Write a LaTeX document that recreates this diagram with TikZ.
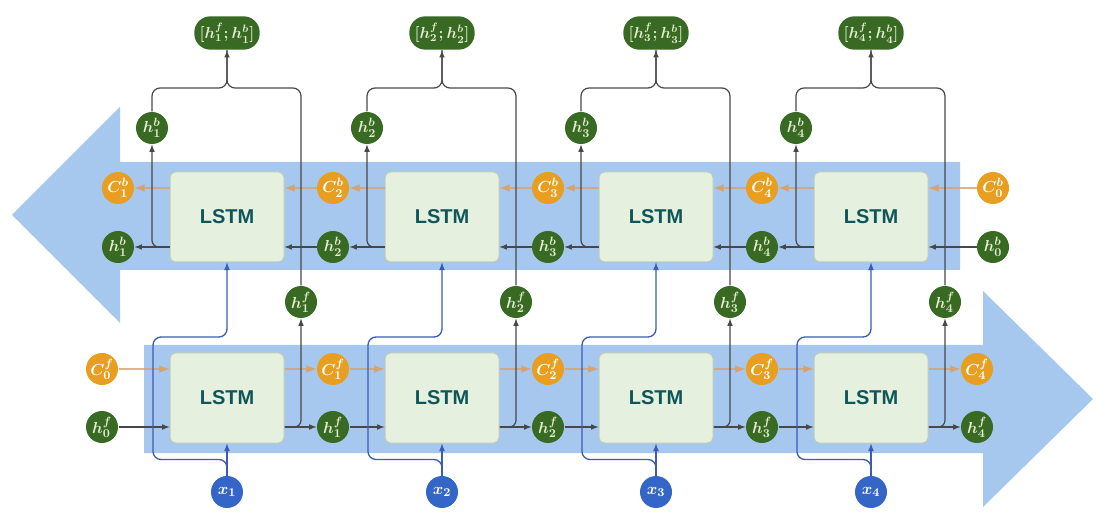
\documentclass[tikz,border=0pt]{standalone}
\usepackage{fontspec}
\setsansfont{Liberation Sans}

\definecolor{bandblue}{RGB}{166,199,238}
\definecolor{boxfill}{RGB}{229,240,222}
\definecolor{boxedge}{RGB}{190,205,186}
\definecolor{lstmtext}{RGB}{14,86,90}
\definecolor{hgreen}{RGB}{56,106,36}
\definecolor{corange}{RGB}{232,158,32}
\definecolor{xblue}{RGB}{52,102,200}
\definecolor{hlabel}{RGB}{226,236,206}
\definecolor{linegray}{RGB}{72,72,72}
\definecolor{xlinecol}{RGB}{58,92,180}
\definecolor{clinecol}{RGB}{214,162,110}

\tikzset{every picture/.style={line width=0.75pt}}
\tikzset{
  lstm/.style={draw=boxedge, fill=boxfill, rounded corners=4pt, minimum width=85.5pt, minimum height=67.5pt, font=\sffamily\bfseries\fontsize{15}{17}\selectfont, text=lstmtext},
  hnode/.style={circle, fill=hgreen, minimum size=24pt, inner sep=0pt, text=hlabel, font=\fontsize{12.5}{13}\selectfont\boldmath},
  cnode/.style={circle, fill=corange, minimum size=24pt, inner sep=0pt, text=white, font=\fontsize{12.5}{13}\selectfont\boldmath},
  xnode/.style={circle, fill=xblue, minimum size=24pt, inner sep=0pt, text=white, font=\fontsize{12.5}{13}\selectfont\boldmath},
  outnode/.style={fill=hgreen, rounded corners=12pt, minimum width=49pt, minimum height=25pt, inner sep=1pt, text=hlabel, font=\fontsize{11.5}{12}\selectfont\boldmath},
  hline/.style={draw=linegray, line width=0.9pt},
  cline/.style={draw=clinecol, line width=1.6pt, draw opacity=0.8},
  xline/.style={draw=xlinecol, line width=1pt},
}

\begin{document}
\begin{tikzpicture}[x=0.75pt,y=0.75pt,yscale=-1,xscale=1,>=latex]

\useasboundingbox (0,0) rectangle (1108,524);

% bands
\fill [bandblue] (960,162) -- (120,162) -- (120,107) -- (12,215) -- (120,323) -- (120,270) -- (960,270) -- cycle ;
\fill [bandblue] (144,345) -- (983,345) -- (983,291) -- (1093,399) -- (983,507) -- (983,453) -- (144,453) -- cycle ;

% backward row
\node [lstm] (lstmb1) at (227,217) {LSTM};
\node [lstm] (lstmb2) at (442,217) {LSTM};
\node [lstm] (lstmb3) at (656,217) {LSTM};
\node [lstm] (lstmb4) at (871,217) {LSTM};

\node [cnode] (cb1) at (118,188) {$C^{b}_{1}$};
\node [cnode] (cb2) at (333,188) {$C^{b}_{2}$};
\node [cnode] (cb3) at (548,188) {$C^{b}_{3}$};
\node [cnode] (cb4) at (762,188) {$C^{b}_{4}$};
\node [cnode] (cb0) at (993,188) {$C^{b}_{0}$};

\node [hnode] (hb1) at (118,247) {$h^{b}_{1}$};
\node [hnode] (hb2) at (333,247) {$h^{b}_{2}$};
\node [hnode] (hb3) at (548,247) {$h^{b}_{3}$};
\node [hnode] (hb4) at (762,247) {$h^{b}_{4}$};
\node [hnode] (hb0) at (993,247) {$h^{b}_{0}$};

\node [hnode] (hbu1) at (152,128) {$h^{b}_{1}$};
\node [hnode] (hbu2) at (367,128) {$h^{b}_{2}$};
\node [hnode] (hbu3) at (581,128) {$h^{b}_{3}$};
\node [hnode] (hbu4) at (796,128) {$h^{b}_{4}$};

% forward row
\node [lstm] (lstmf1) at (227,398) {LSTM};
\node [lstm] (lstmf2) at (442,398) {LSTM};
\node [lstm] (lstmf3) at (656,398) {LSTM};
\node [lstm] (lstmf4) at (871,398) {LSTM};

\node [cnode] (cf0) at (102,369) {$C^{f}_{0}$};
\node [cnode] (cf1) at (333,369) {$C^{f}_{1}$};
\node [cnode] (cf2) at (548,369) {$C^{f}_{2}$};
\node [cnode] (cf3) at (762,369) {$C^{f}_{3}$};
\node [cnode] (cf4) at (977,369) {$C^{f}_{4}$};

\node [hnode] (hf0) at (102,427) {$h^{f}_{0}$};
\node [hnode] (hf1) at (333,427) {$h^{f}_{1}$};
\node [hnode] (hf2) at (548,427) {$h^{f}_{2}$};
\node [hnode] (hf3) at (762,427) {$h^{f}_{3}$};
\node [hnode] (hf4) at (977,427) {$h^{f}_{4}$};

\node [hnode] (hfu1) at (301,302) {$h^{f}_{1}$};
\node [hnode] (hfu2) at (516,302) {$h^{f}_{2}$};
\node [hnode] (hfu3) at (730,302) {$h^{f}_{3}$};
\node [hnode] (hfu4) at (945,302) {$h^{f}_{4}$};

\node [xnode] (x1) at (227,492) {$x_{1}$};
\node [xnode] (x2) at (442,492) {$x_{2}$};
\node [xnode] (x3) at (656,492) {$x_{3}$};
\node [xnode] (x4) at (871,492) {$x_{4}$};

% outputs
\node [outnode] (out1) at (227,33) {$[h^{f}_{1};h^{b}_{1}]$};
\node [outnode] (out2) at (442,33) {$[h^{f}_{2};h^{b}_{2}]$};
\node [outnode] (out3) at (656,33) {$[h^{f}_{3};h^{b}_{3}]$};
\node [outnode] (out4) at (871,33) {$[h^{f}_{4};h^{b}_{4}]$};
\coordinate (m1) at (227,88);
\coordinate (m2) at (442,88);
\coordinate (m3) at (656,88);
\coordinate (m4) at (871,88);

% cell state, backward
\draw [cline,->] (cb0) -- (cb0 -| lstmb4.east) ;
\draw [cline,->] (lstmb4.west |- cb4) -- (cb4) ;
\draw [cline,->] (cb4) -- (cb4 -| lstmb3.east) ;
\draw [cline,->] (lstmb3.west |- cb3) -- (cb3) ;
\draw [cline,->] (cb3) -- (cb3 -| lstmb2.east) ;
\draw [cline,->] (lstmb2.west |- cb2) -- (cb2) ;
\draw [cline,->] (cb2) -- (cb2 -| lstmb1.east) ;
\draw [cline,->] (lstmb1.west |- cb1) -- (cb1) ;

% hidden state, backward
\draw [hline,->] (hb0) -- (hb0 -| lstmb4.east) ;
\draw [hline,->] (lstmb4.west |- hb4) -- (hb4) ;
\draw [hline,->] (hb4) -- (hb4 -| lstmb3.east) ;
\draw [hline,->] (lstmb3.west |- hb3) -- (hb3) ;
\draw [hline,->] (hb3) -- (hb3 -| lstmb2.east) ;
\draw [hline,->] (lstmb2.west |- hb2) -- (hb2) ;
\draw [hline,->] (hb2) -- (hb2 -| lstmb1.east) ;
\draw [hline,->] (lstmb1.west |- hb1) -- (hb1) ;
\draw [hline,->,rounded corners=5pt] (lstmb1.west |- hb1) -| (hbu1) ;
\draw [hline,->,rounded corners=5pt] (lstmb2.west |- hb2) -| (hbu2) ;
\draw [hline,->,rounded corners=5pt] (lstmb3.west |- hb3) -| (hbu3) ;
\draw [hline,->,rounded corners=5pt] (lstmb4.west |- hb4) -| (hbu4) ;

% cell state, forward
\draw [cline,->] (cf0) -- (cf0 -| lstmf1.west) ;
\draw [cline,->] (lstmf1.east |- cf1) -- (cf1) ;
\draw [cline,->] (cf1) -- (cf1 -| lstmf2.west) ;
\draw [cline,->] (lstmf2.east |- cf2) -- (cf2) ;
\draw [cline,->] (cf2) -- (cf2 -| lstmf3.west) ;
\draw [cline,->] (lstmf3.east |- cf3) -- (cf3) ;
\draw [cline,->] (cf3) -- (cf3 -| lstmf4.west) ;
\draw [cline,->] (lstmf4.east |- cf4) -- (cf4) ;

% hidden state, forward
\draw [hline,->] (hf0) -- (hf0 -| lstmf1.west) ;
\draw [hline,->] (lstmf1.east |- hf1) -- (hf1) ;
\draw [hline,->] (hf1) -- (hf1 -| lstmf2.west) ;
\draw [hline,->] (lstmf2.east |- hf2) -- (hf2) ;
\draw [hline,->] (hf2) -- (hf2 -| lstmf3.west) ;
\draw [hline,->] (lstmf3.east |- hf3) -- (hf3) ;
\draw [hline,->] (hf3) -- (hf3 -| lstmf4.west) ;
\draw [hline,->] (lstmf4.east |- hf4) -- (hf4) ;
\draw [hline,->,rounded corners=5pt] (lstmf1.east |- hf1) -| (hfu1) ;
\draw [hline,->,rounded corners=5pt] (lstmf2.east |- hf2) -| (hfu2) ;
\draw [hline,->,rounded corners=5pt] (lstmf3.east |- hf3) -| (hfu3) ;
\draw [hline,->,rounded corners=5pt] (lstmf4.east |- hf4) -| (hfu4) ;

% concatenation
\draw [hline,rounded corners=6pt] (hbu1) |- (m1) -- (out1) ;
\draw [hline,->,rounded corners=6pt] (hfu1) |- (m1) -- (out1) ;
\draw [hline,rounded corners=6pt] (hbu2) |- (m2) -- (out2) ;
\draw [hline,->,rounded corners=6pt] (hfu2) |- (m2) -- (out2) ;
\draw [hline,rounded corners=6pt] (hbu3) |- (m3) -- (out3) ;
\draw [hline,->,rounded corners=6pt] (hfu3) |- (m3) -- (out3) ;
\draw [hline,rounded corners=6pt] (hbu4) |- (m4) -- (out4) ;
\draw [hline,->,rounded corners=6pt] (hfu4) |- (m4) -- (out4) ;

% inputs
\draw [xline,->] (x1) -- (lstmf1) ;
\draw [xline,->] (x2) -- (lstmf2) ;
\draw [xline,->] (x3) -- (lstmf3) ;
\draw [xline,->] (x4) -- (lstmf4) ;
\draw [xline,->,rounded corners=6pt] (x1.north) -- ++(0,-16) -| (153,337) -| (lstmb1) ;
\draw [xline,->,rounded corners=6pt] (x2.north) -- ++(0,-16) -| (368,337) -| (lstmb2) ;
\draw [xline,->,rounded corners=6pt] (x3.north) -- ++(0,-16) -| (582,337) -| (lstmb3) ;
\draw [xline,->,rounded corners=6pt] (x4.north) -- ++(0,-16) -| (797,337) -| (lstmb4) ;

\end{tikzpicture}
\end{document}
